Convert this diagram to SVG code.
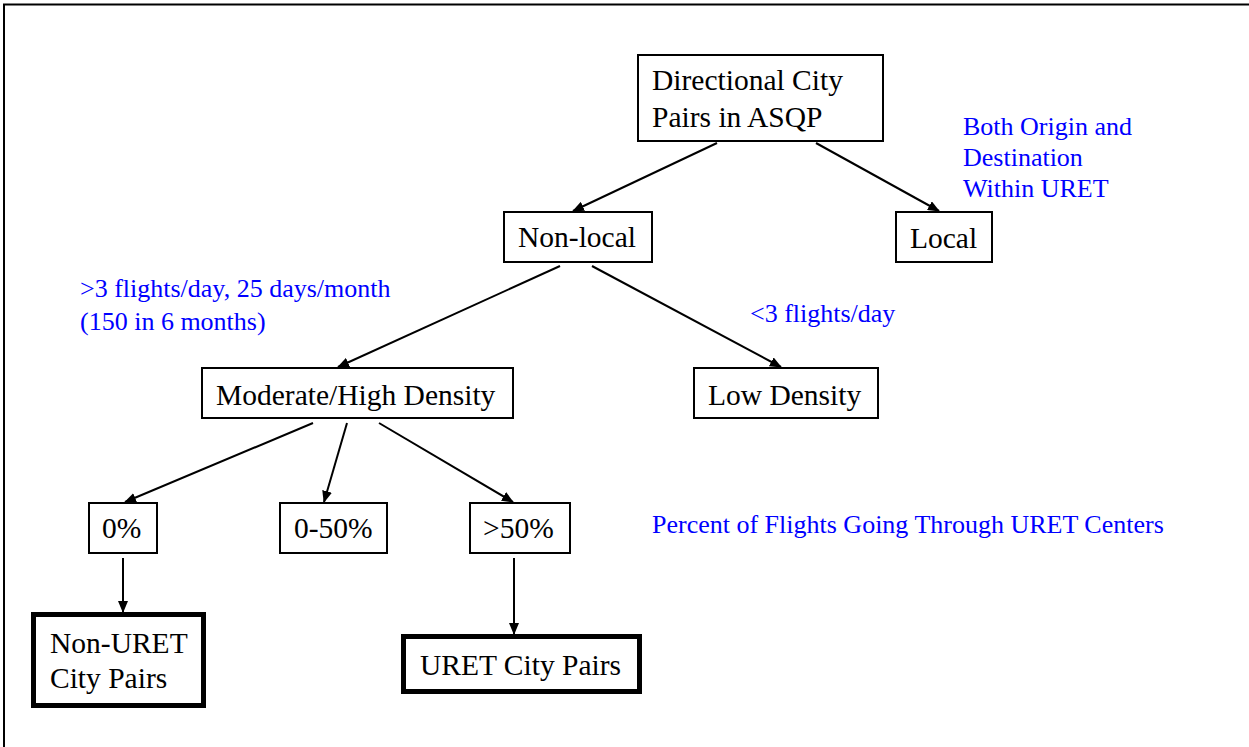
<svg xmlns="http://www.w3.org/2000/svg" width="1249" height="747" viewBox="0 0 1249 747">
<defs>
<marker id="arr" markerWidth="12" markerHeight="10" refX="11" refY="5" orient="auto" markerUnits="userSpaceOnUse">
<path d="M0,0 L12,5 L0,10 Z" fill="#000"/>
</marker>
<style>
.box{fill:#fff;stroke:#000;stroke-width:2}
.bold{fill:#fff;stroke:#000;stroke-width:5}
.t{font-family:"Liberation Serif","Times New Roman",serif;font-size:29.5px;fill:#000}
.b{font-family:"Liberation Serif","Times New Roman",serif;font-size:26px;fill:#0000ff}
.c{stroke:#000;stroke-width:2;fill:none;marker-end:url(#arr)}
</style>
</defs>
<rect width="1249" height="747" fill="#fff"/>
<g id="frame">
<path d="M4,747 L4,4.5 L1249,4.5" fill="none" stroke="#000" stroke-width="2"/>
</g>
<g id="connectors">
<line class="c" x1="717" y1="143" x2="573" y2="211"/>
<line class="c" x1="816" y1="143" x2="939" y2="211"/>
<line class="c" x1="560" y1="266" x2="338" y2="367"/>
<line class="c" x1="592" y1="266" x2="781" y2="367"/>
<line class="c" x1="313" y1="423" x2="125" y2="502"/>
<line class="c" x1="347" y1="423" x2="324" y2="502"/>
<line class="c" x1="379" y1="423" x2="513" y2="502"/>
<line class="c" x1="123" y1="558" x2="123" y2="612"/>
<line class="c" x1="514" y1="558" x2="514" y2="634"/>
</g>
<g id="n-directional">
<rect class="box" x="638" y="55" width="245" height="86"/>
<text class="t" x="652" y="90">Directional City</text>
<text class="t" x="652" y="127">Pairs in ASQP</text>
</g>
<g id="n-nonlocal">
<rect class="box" x="504" y="212" width="148" height="50"/>
<text class="t" x="518" y="247">Non-local</text>
</g>
<g id="n-local">
<rect class="box" x="896" y="212" width="96" height="50"/>
<text class="t" x="910" y="248">Local</text>
</g>
<g id="n-moderate">
<rect class="box" x="202" y="368" width="311" height="50"/>
<text class="t" x="216" y="405">Moderate/High Density</text>
</g>
<g id="n-low">
<rect class="box" x="694" y="368" width="184" height="50"/>
<text class="t" x="708" y="405">Low Density</text>
</g>
<g id="n-0">
<rect class="box" x="89" y="503" width="68" height="50"/>
<text class="t" x="102" y="538">0%</text>
</g>
<g id="n-0-50">
<rect class="box" x="280" y="503" width="107" height="50"/>
<text class="t" x="294" y="538">0-50%</text>
</g>
<g id="n-50">
<rect class="box" x="470" y="503" width="100" height="50"/>
<text class="t" x="483" y="538">&gt;50%</text>
</g>
<g id="n-nonuret">
<rect class="bold" x="33.5" y="614.5" width="170" height="91"/>
<text class="t" x="50" y="653">Non-URET</text>
<text class="t" x="50" y="688">City Pairs</text>
</g>
<g id="n-uret">
<rect class="bold" x="403.5" y="636.5" width="236" height="55"/>
<text class="t" x="420" y="675">URET City Pairs</text>
</g>
<g id="labels">
<text class="b" x="963" y="135">Both Origin and</text>
<text class="b" x="963" y="166">Destination</text>
<text class="b" x="963" y="197">Within URET</text>
<text class="b" x="80" y="297">&gt;3 flights/day, 25 days/month</text>
<text class="b" x="80" y="330">(150 in 6 months)</text>
<text class="b" x="750" y="322">&lt;3 flights/day</text>
<text class="b" x="652" y="533">Percent of Flights Going Through URET Centers</text>
</g>
</svg>
